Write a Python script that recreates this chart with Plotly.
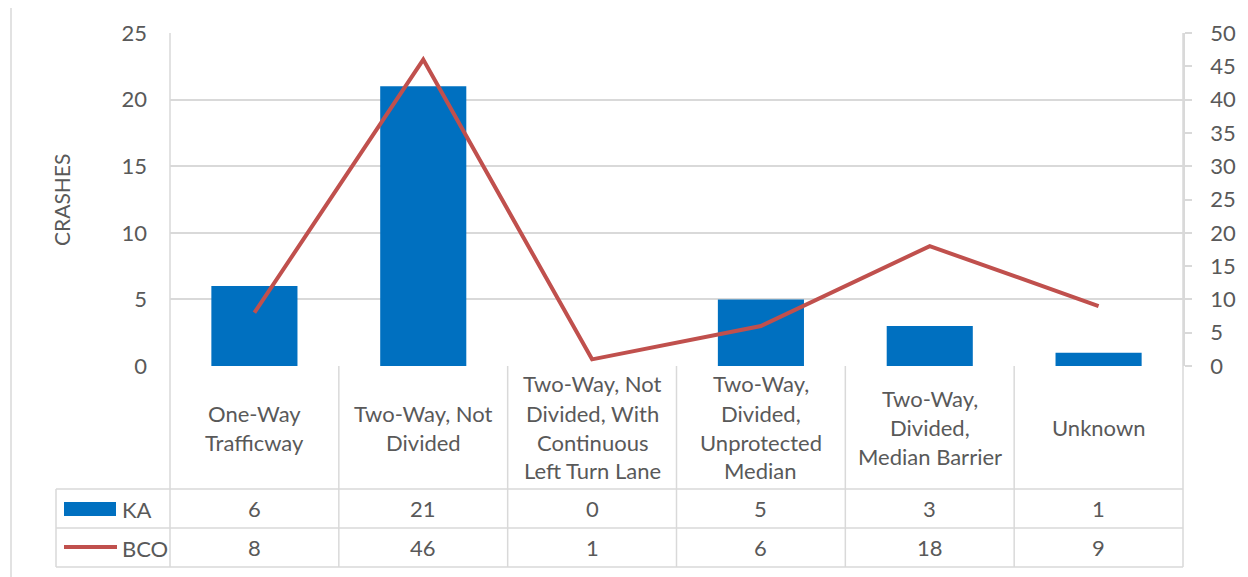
import plotly.graph_objects as go

# ---- data ----
categories = [
    "One-Way<br>Trafficway",
    "Two-Way, Not<br>Divided",
    "Two-Way, Not<br>Divided, With<br>Continuous<br>Left Turn Lane",
    "Two-Way,<br>Divided,<br>Unprotected<br>Median",
    "Two-Way,<br>Divided,<br>Median Barrier",
    "Unknown",
]
ka_values = [6, 21, 0, 5, 3, 1]
bco_values = [8, 46, 1, 6, 18, 9]
series_names = ["KA", "BCO"]
left_ticks = [0, 5, 10, 15, 20, 25]
right_ticks = [0, 5, 10, 15, 20, 25, 30, 35, 40, 45, 50]
y_title = "CRASHES"

# ---- style ----
OFF = 8  # page body margin
W, H = 1248 - OFF, 577 - OFF
PL, PR, PT, PB = 170, 1183, 33, 366
FONT = "Lato"
TXT = "#595959"
GRID = "#D9D9D9"
BLUE = "#0070C0"
RED = "#C0504D"
FS = 22


def px(x):
    return (x - PL) / (PR - PL)


def py(y):
    return (PB - y) / (PB - PT)


cat_ids = [f"c{i}" for i in range(len(categories))]

fig = go.Figure()
fig.add_trace(go.Bar(x=cat_ids, y=ka_values, name=series_names[0],
                     marker=dict(color=BLUE, line=dict(width=0)), width=0.51,
                     yaxis="y"))
fig.add_trace(go.Scatter(x=cat_ids, y=bco_values, name=series_names[1], mode="lines",
                         line=dict(color=RED, width=4), yaxis="y2"))

shapes = []


def hline(y, x0, x1):
    shapes.append(dict(type="line", xref="paper", yref="paper", x0=px(x0), x1=px(x1),
                       y0=py(y), y1=py(y), line=dict(color=GRID, width=1.5), layer="below"))


def vline(x, y0, y1):
    shapes.append(dict(type="line", xref="paper", yref="paper", x0=px(x), x1=px(x),
                       y0=py(y0), y1=py(y1), line=dict(color=GRID, width=1.5), layer="below"))


# outer border
shapes.append(dict(type="rect", xref="paper", yref="paper", x0=px(11), x1=px(1246),
                   y0=py(4), y1=py(590), line=dict(color=GRID, width=1.5), layer="below"))

# table lines
n = len(categories)
cw = (PR - PL) / n
for i in range(1, n):
    vline(PL + i * cw, PB, 567)
vline(PL, PT, 567)
vline(PR, PT, 567)
vline(56, 489, 567)
for y in (489, 528, 567):
    hline(y, 56, PR)

# legend swatches
shapes.append(dict(type="rect", xref="paper", yref="paper", x0=px(64), x1=px(116),
                   y0=py(502), y1=py(516), fillcolor=BLUE, line=dict(width=0)))
shapes.append(dict(type="line", xref="paper", yref="paper", x0=px(64), x1=px(117),
                   y0=py(547), y1=py(547), line=dict(color=RED, width=4)))

annotations = []
LINE_H = 29
for i, cat in enumerate(categories):
    lines = cat.split("<br>")
    center = 427.5
    start = center - (len(lines) - 1) * LINE_H / 2
    for k, ln in enumerate(lines):
        annotations.append(dict(x=cat_ids[i], xref="x", y=py(start + k * LINE_H), yref="paper",
                                text=ln, showarrow=False, yanchor="middle", xanchor="center",
                                font=dict(family=FONT, size=FS, color=TXT)))
    annotations.append(dict(x=cat_ids[i], xref="x", y=py(508.5), yref="paper",
                            text=str(ka_values[i]), showarrow=False, yanchor="middle",
                            font=dict(family=FONT, size=FS, color=TXT)))
    annotations.append(dict(x=cat_ids[i], xref="x", y=py(547.5), yref="paper",
                            text=str(bco_values[i]), showarrow=False, yanchor="middle",
                            font=dict(family=FONT, size=FS, color=TXT)))

annotations.append(dict(x=px(120), xref="paper", y=py(509), yref="paper", text=series_names[0],
                        showarrow=False, xanchor="left", yanchor="middle",
                        font=dict(family=FONT, size=FS, color=TXT)))
annotations.append(dict(x=px(120), xref="paper", y=py(548), yref="paper", text=series_names[1],
                        showarrow=False, xanchor="left", yanchor="middle",
                        font=dict(family=FONT, size=FS, color=TXT)))
annotations.append(dict(x=px(61), xref="paper", y=py(200), yref="paper", text=y_title,
                        showarrow=False, textangle=-90, xanchor="center", yanchor="middle",
                        font=dict(family=FONT, size=FS - 1, color=TXT)))

fig.update_layout(
    width=W, height=H,
    margin=dict(l=PL - OFF, r=1248 - PR, t=PT - OFF, b=577 - PB, pad=0),
    paper_bgcolor="white", plot_bgcolor="white",
    showlegend=False,
    bargap=0.49,
    font=dict(family=FONT, size=FS, color=TXT),
    xaxis=dict(showticklabels=False, showgrid=False, zeroline=False, showline=False,
               ticks="", range=[-0.5, n - 0.5], fixedrange=True),
    yaxis=dict(range=[0, 25], tickvals=left_ticks, showgrid=True, gridcolor=GRID, gridwidth=1.5,
               zeroline=False, showline=False, ticks="", ticklabelstandoff=22,
               tickfont=dict(family=FONT, size=FS, color=TXT)),
    yaxis2=dict(range=[0, 50], tickvals=right_ticks, overlaying="y", side="right",
                showgrid=False, zeroline=False, showline=True, linecolor=GRID, linewidth=1.5,
                ticks="outside", ticklen=7, tickcolor=GRID, tickwidth=1.5,
                ticklabelstandoff=14,
                tickfont=dict(family=FONT, size=FS, color=TXT)),
    shapes=shapes,
    annotations=annotations,
)

fig.write_html("out.html")
